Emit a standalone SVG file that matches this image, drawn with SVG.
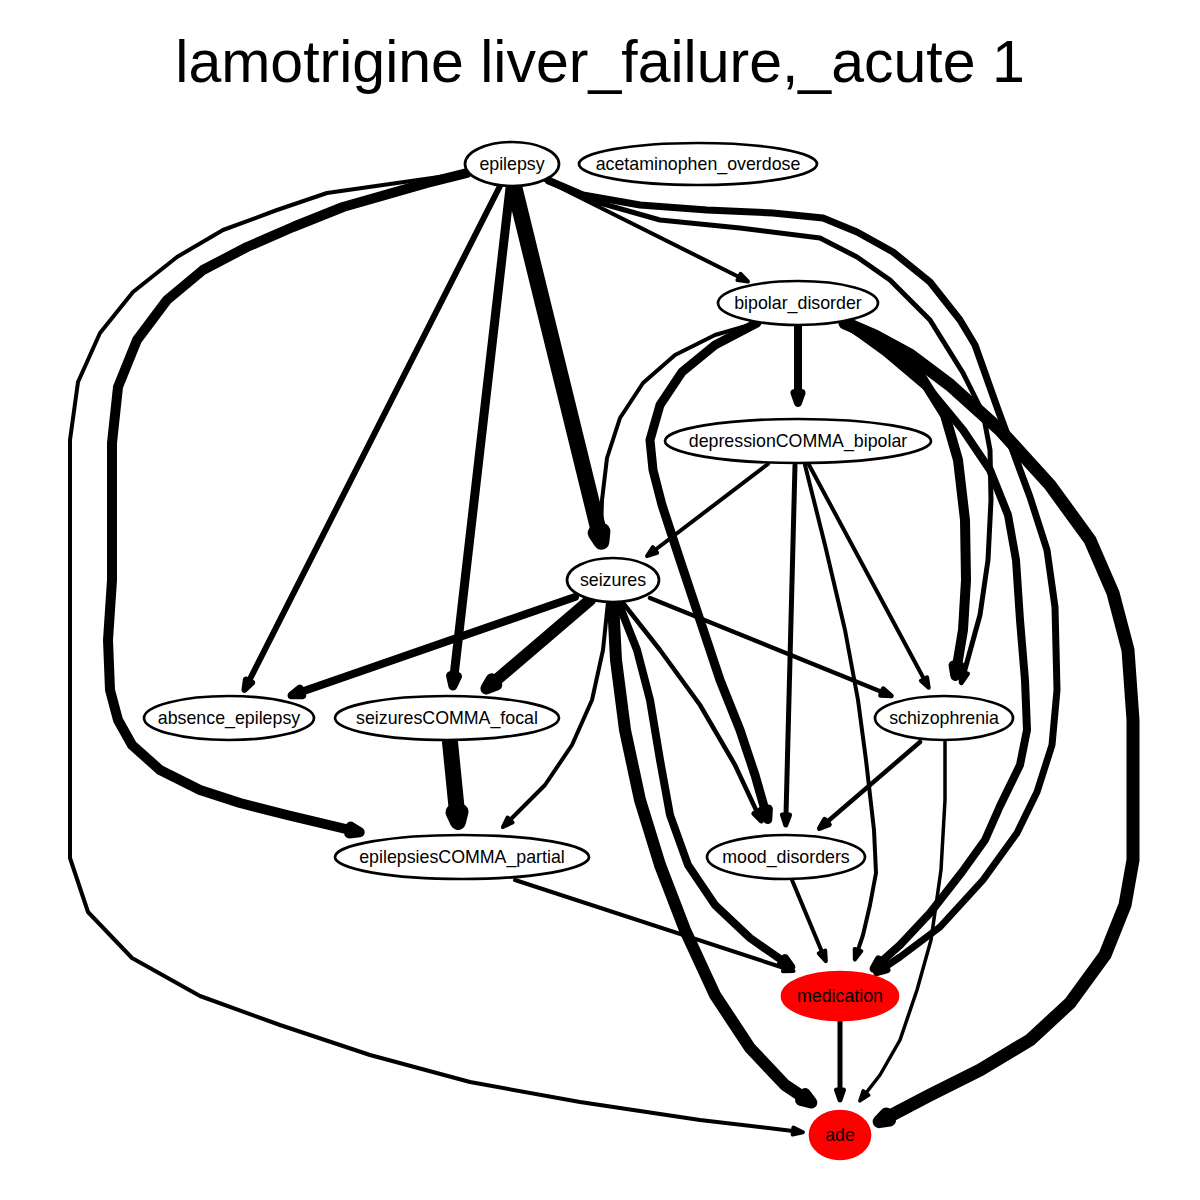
<svg xmlns="http://www.w3.org/2000/svg" width="1200" height="1200" viewBox="0 0 1200 1200">
<style>
.n ellipse{fill:#fff;stroke:#000;stroke-width:2.7}
.n.red ellipse{fill:#ff0000;stroke:#ff0000}
.n text{font-family:"Liberation Sans",Arial,sans-serif;font-size:17.8px;text-anchor:middle;fill:#000}
.title{font-family:"Liberation Sans",Arial,sans-serif;font-size:59px;text-anchor:middle;fill:#000}
.e{fill:none;stroke:#000;stroke-linecap:round;stroke-linejoin:round}
.ah{fill:#000;stroke:#000;stroke-linejoin:round}
</style>
<defs>
<marker id="a3" markerUnits="userSpaceOnUse" orient="auto" refX="0" refY="0" markerWidth="20" markerHeight="20" overflow="visible"><path class="ah" style="stroke-width:3.5" d="M0,-3.5L10,0L0,3.5Z"/></marker>
<marker id="a4" markerUnits="userSpaceOnUse" orient="auto" refX="0" refY="0" markerWidth="20" markerHeight="20" overflow="visible"><path class="ah" style="stroke-width:4" d="M0,-3.5L10,0L0,3.5Z"/></marker>
<marker id="a5" markerUnits="userSpaceOnUse" orient="auto" refX="0" refY="0" markerWidth="20" markerHeight="20" overflow="visible"><path class="ah" style="stroke-width:5" d="M0,-3.5L10,0L0,3.5Z"/></marker>
<marker id="a6" markerUnits="userSpaceOnUse" orient="auto" refX="0" refY="0" markerWidth="20" markerHeight="20" overflow="visible"><path class="ah" style="stroke-width:6" d="M0,-3.5L10,0L0,3.5Z"/></marker>
<marker id="a7" markerUnits="userSpaceOnUse" orient="auto" refX="0" refY="0" markerWidth="20" markerHeight="20" overflow="visible"><path class="ah" style="stroke-width:7" d="M0,-3.5L10,0L0,3.5Z"/></marker>
<marker id="a8" markerUnits="userSpaceOnUse" orient="auto" refX="0" refY="0" markerWidth="20" markerHeight="20" overflow="visible"><path class="ah" style="stroke-width:8" d="M0,-3.5L10,0L0,3.5Z"/></marker>
<marker id="a9" markerUnits="userSpaceOnUse" orient="auto" refX="0" refY="0" markerWidth="20" markerHeight="20" overflow="visible"><path class="ah" style="stroke-width:9" d="M0,-3.5L10,0L0,3.5Z"/></marker>
<marker id="a10" markerUnits="userSpaceOnUse" orient="auto" refX="0" refY="0" markerWidth="20" markerHeight="20" overflow="visible"><path class="ah" style="stroke-width:10" d="M0,-3.5L10,0L0,3.5Z"/></marker>
<marker id="a12" markerUnits="userSpaceOnUse" orient="auto" refX="0" refY="0" markerWidth="20" markerHeight="20" overflow="visible"><path class="ah" style="stroke-width:12" d="M0,-3.5L10,0L0,3.5Z"/></marker>
<marker id="a13" markerUnits="userSpaceOnUse" orient="auto" refX="0" refY="0" markerWidth="20" markerHeight="20" overflow="visible"><path class="ah" style="stroke-width:13" d="M0,-3.5L10,0L0,3.5Z"/></marker>
<marker id="a16" markerUnits="userSpaceOnUse" orient="auto" refX="0" refY="0" markerWidth="20" markerHeight="20" overflow="visible"><path class="ah" style="stroke-width:16" d="M0,-3.5L10,0L0,3.5Z"/></marker>
</defs>
<rect width="1200" height="1200" fill="#fff"/>
<text class="title" x="600" y="82">lamotrigine liver_failure,_acute 1</text>
<g id="edges">
<polyline class="e" style="stroke-width:4" marker-end="url(#a4)" points="467,173 327,193 277,210 223,230 177,257 133,292 100,333 78,382 70,440 70,858 88,912 132,958 200,996 280,1025 370,1055 470,1082 580,1102 700,1120 793,1131"/>
<polyline class="e" style="stroke-width:10" marker-end="url(#a10)" points="467,173 427,183 343,207 293,227 247,247 203,270 167,300 137,340 118,387 112,443 112,580 108,640 110,690 118,720 132,745 160,770 200,790 240,803 287,815 350,830"/>
<polyline class="e" style="stroke-width:6" marker-end="url(#a6)" points="500,186 249,681"/>
<polyline class="e" style="stroke-width:9" marker-end="url(#a9)" points="510,188 454,676"/>
<polyline class="e" style="stroke-width:16" marker-end="url(#a16)" points="514,186 599,532"/>
<polyline class="e" style="stroke-width:4" marker-end="url(#a4)" points="541,178 739,277"/>
<polyline class="e" style="stroke-width:5" marker-end="url(#a5)" points="548,182 600,203 660,220 740,228 820,238 857,257 890,280 930,320 963,373 983,413 990,450 991,500 988,560 980,615 964,673"/>
<polyline class="e" style="stroke-width:7" marker-end="url(#a7)" points="548,180 583,195 640,205 707,210 773,213 823,218 857,232 893,252 930,282 960,320 975,345 997,407 1020,470 1030,497 1047,550 1055,607 1057,690 1052,745 1037,792 1017,833 983,880 940,927 900,957 885,967"/>
<polyline class="e" style="stroke-width:10" marker-end="url(#a10)" points="845,323 880,345 920,375 945,415 958,460 965,520 966,580 963,630 957,666"/>
<polyline class="e" style="stroke-width:13" marker-end="url(#a13)" points="845,323 875,336 910,355 950,385 1000,430 1050,485 1090,540 1113,593 1128,650 1133,720 1133,860 1125,905 1105,955 1070,1003 1030,1040 980,1070 930,1095 888,1117"/>
<polyline class="e" style="stroke-width:8" marker-end="url(#a8)" points="845,323 885,352 930,390 963,430 990,470 1008,515 1016,560 1020,620 1025,680 1027,730 1020,765 1000,806 985,840 962,872 930,913 900,945 881,962"/>
<polyline class="e" style="stroke-width:4" marker-end="url(#a4)" points="760,322 715,335 675,355 643,383 620,418 607,458 602,500 601,533"/>
<polyline class="e" style="stroke-width:9" marker-end="url(#a9)" points="757,323 715,345 682,372 660,405 650,440 653,470 662,505 680,560 700,620 720,680 740,730 755,775 765,810"/>
<polyline class="e" style="stroke-width:8" marker-end="url(#a8)" points="798,326 798,393"/>
<polyline class="e" style="stroke-width:4" marker-end="url(#a4)" points="768,464 655,550"/>
<polyline class="e" style="stroke-width:5" marker-end="url(#a5)" points="795,465 786,815"/>
<polyline class="e" style="stroke-width:4" marker-end="url(#a4)" points="805,465 825,545 845,630 858,700 866,760 874,830 876,873 870,905 863,935 858,950"/>
<polyline class="e" style="stroke-width:4" marker-end="url(#a4)" points="808,463 924,679"/>
<polyline class="e" style="stroke-width:8" marker-end="url(#a8)" points="575,597 301,692"/>
<polyline class="e" style="stroke-width:12" marker-end="url(#a12)" points="590,600 494,682"/>
<polyline class="e" style="stroke-width:4" marker-end="url(#a4)" points="608,602 603,650 592,700 572,745 545,785 510,820"/>
<polyline class="e" style="stroke-width:4.5" marker-end="url(#a5)" points="623,603 660,650 700,705 735,765 757,812"/>
<polyline class="e" style="stroke-width:4.5" marker-end="url(#a5)" points="650,598 882,692"/>
<polyline class="e" style="stroke-width:12" marker-end="url(#a12)" points="613,602 616,660 625,730 640,800 660,865 685,930 715,995 750,1048 785,1085 803,1097"/>
<polyline class="e" style="stroke-width:8" marker-end="url(#a8)" points="618,602 637,650 650,700 660,760 670,815 688,865 715,905 750,938 783,961"/>
<polyline class="e" style="stroke-width:4" marker-end="url(#a4)" points="515,880 784,968"/>
<polyline class="e" style="stroke-width:16" marker-end="url(#a16)" points="450,742 457,812"/>
<polyline class="e" style="stroke-width:4.5" marker-end="url(#a5)" points="920,742 827,822"/>
<polyline class="e" style="stroke-width:3.5" marker-end="url(#a3)" points="945,742 945,800 941,870 931,940 917,990 900,1040 880,1075 866,1093"/>
<polyline class="e" style="stroke-width:4" marker-end="url(#a4)" points="792,880 822,952"/>
<polyline class="e" style="stroke-width:5" marker-end="url(#a5)" points="840,1020 840,1090"/>
</g>
<g id="node-epilepsy" class="n"><ellipse cx="512" cy="164" rx="47" ry="22"/><text x="512" y="170">epilepsy</text></g>
<g id="node-acetaminophen_overdose" class="n"><ellipse cx="698" cy="164" rx="119" ry="21"/><text x="698" y="170">acetaminophen_overdose</text></g>
<g id="node-bipolar_disorder" class="n"><ellipse cx="798" cy="303" rx="80" ry="22"/><text x="798" y="309">bipolar_disorder</text></g>
<g id="node-depressionCOMMA_bipolar" class="n"><ellipse cx="798" cy="441" rx="133" ry="22"/><text x="798" y="447">depressionCOMMA_bipolar</text></g>
<g id="node-seizures" class="n"><ellipse cx="613" cy="580" rx="46" ry="22"/><text x="613" y="586">seizures</text></g>
<g id="node-absence_epilepsy" class="n"><ellipse cx="229" cy="718" rx="85" ry="22"/><text x="229" y="724">absence_epilepsy</text></g>
<g id="node-seizuresCOMMA_focal" class="n"><ellipse cx="447" cy="718" rx="112" ry="22"/><text x="447" y="724">seizuresCOMMA_focal</text></g>
<g id="node-schizophrenia" class="n"><ellipse cx="944" cy="718" rx="69" ry="22"/><text x="944" y="724">schizophrenia</text></g>
<g id="node-epilepsiesCOMMA_partial" class="n"><ellipse cx="462" cy="857" rx="127" ry="22"/><text x="462" y="863">epilepsiesCOMMA_partial</text></g>
<g id="node-mood_disorders" class="n"><ellipse cx="786" cy="857" rx="79" ry="22"/><text x="786" y="863">mood_disorders</text></g>
<g id="node-medication" class="n red"><ellipse cx="840" cy="996" rx="58" ry="24"/><text x="840" y="1002">medication</text></g>
<g id="node-ade" class="n red"><ellipse cx="840" cy="1135" rx="30" ry="24"/><text x="840" y="1141">ade</text></g>
</svg>
